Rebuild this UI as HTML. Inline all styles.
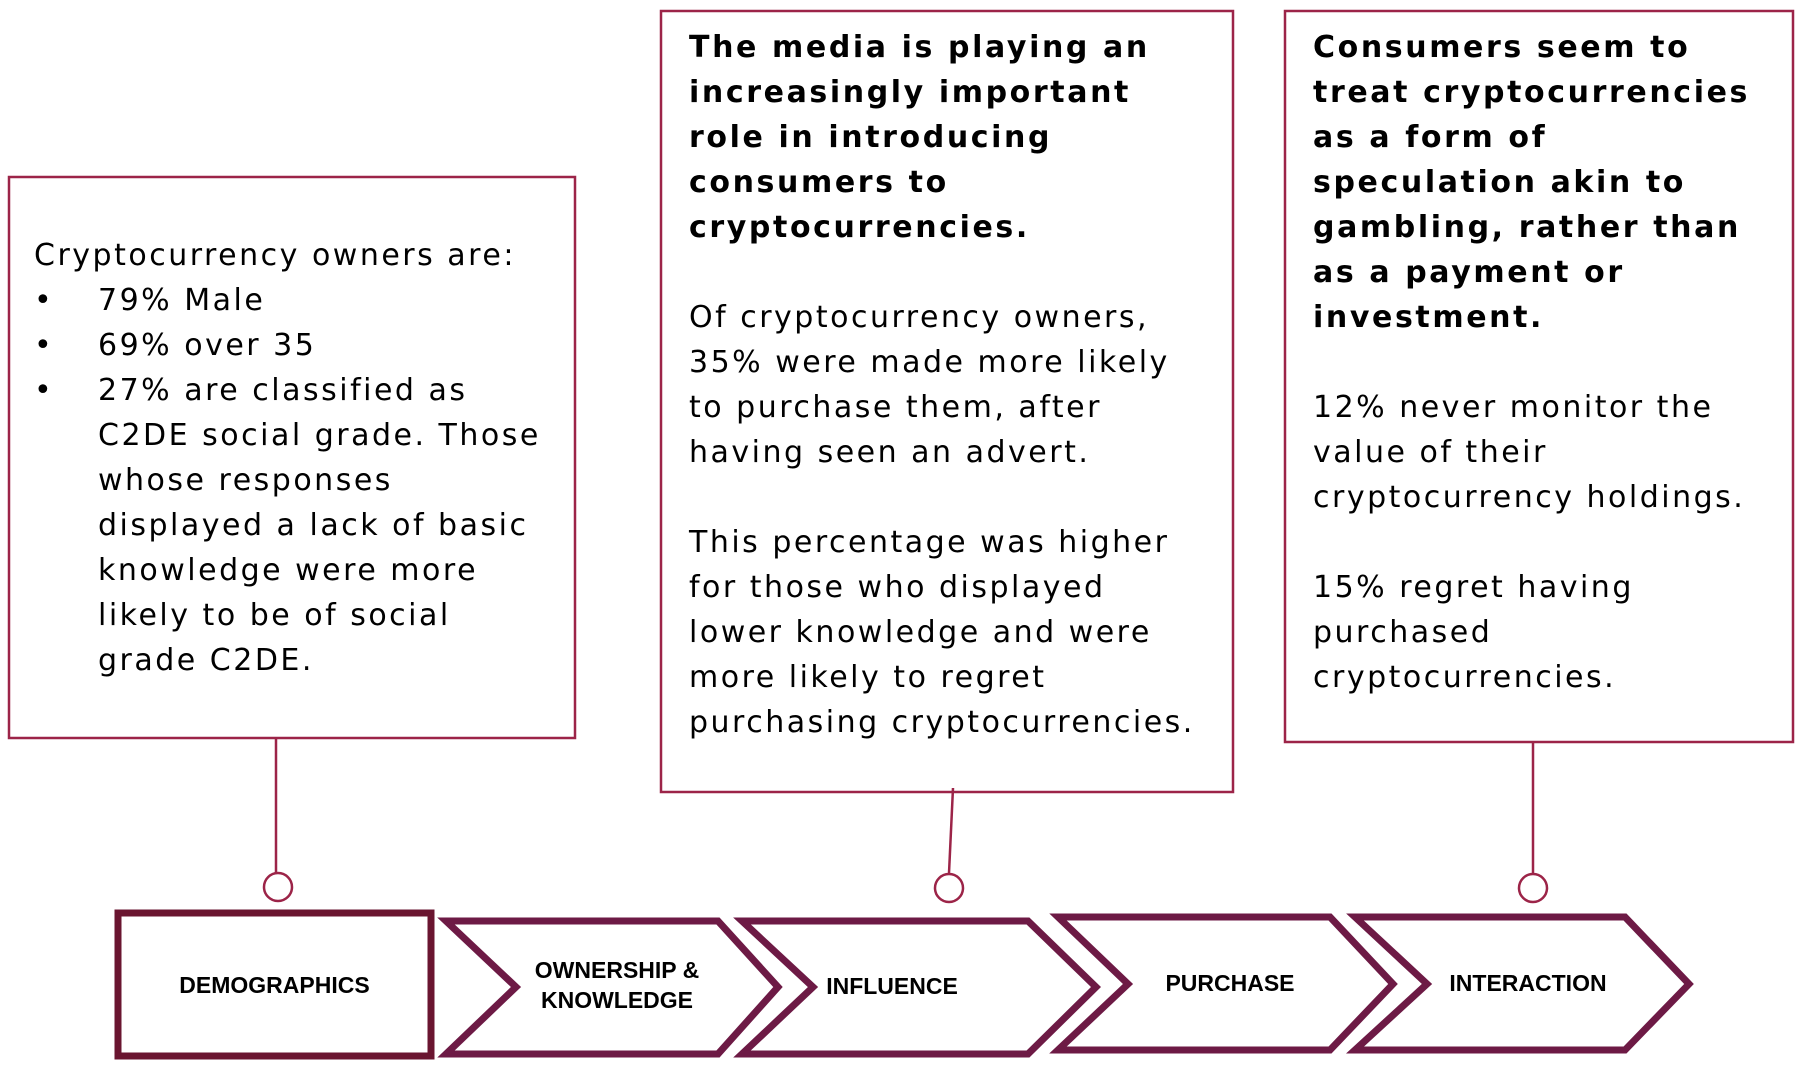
<!DOCTYPE html>
<html><head><meta charset="utf-8"><style>
body{margin:0;width:1801px;height:1067px;background:#fff;position:relative;overflow:hidden;font-family:"DejaVu Sans","Liberation Sans",sans-serif;color:#000}
.t{position:absolute;font-size:30px;line-height:45px;white-space:nowrap;letter-spacing:2.5px}
.b{font-weight:bold;letter-spacing:2.6px}
.lab{position:absolute;font-family:"Liberation Sans",sans-serif;font-weight:bold;font-size:23px;line-height:30px;text-align:center;white-space:nowrap}
</style></head><body>
<svg width="1801" height="1067" style="position:absolute;left:0;top:0">
<g fill="none" stroke="#9c2448" stroke-width="2.5">
<rect x="9" y="177" width="566" height="561"/>
<rect x="661" y="11" width="572" height="781"/>
<rect x="1285" y="11" width="508" height="731"/>
<line x1="276" y1="738" x2="276" y2="873"/>
<line x1="953" y1="788" x2="949" y2="873"/>
<line x1="1533" y1="742" x2="1533" y2="874"/>
<circle cx="278" cy="887" r="14"/>
<circle cx="949" cy="888" r="14"/>
<circle cx="1533" cy="888" r="14"/>
</g>
<rect x="118" y="913" width="313" height="143" fill="none" stroke="#6a1530" stroke-width="7"/>
<g fill="none" stroke="#6d1a45" stroke-width="7" stroke-linejoin="miter">
<polygon points="446,921 718,921 778,987 718,1054 446,1054 516,987"/>
<polygon points="742,921 1028,921 1096,987 1028,1054 742,1054 813,987"/>
<polygon points="1058,917 1330,917 1393,984 1330,1050 1058,1050 1128,984"/>
<polygon points="1355,917 1625,917 1689,984 1625,1050 1355,1050 1427,984"/>
</g>
</svg>
<div class="t" style="left:34px;top:233px">Cryptocurrency owners are:</div>
<div class="t" style="left:34px;top:278px">•</div><div class="t" style="left:98px;top:278px">79% Male</div>
<div class="t" style="left:34px;top:323px">•</div><div class="t" style="left:98px;top:323px">69% over 35</div>
<div class="t" style="left:34px;top:368px">•</div>
<div class="t" style="left:98px;top:368px">27% are classified as<br>C2DE social grade. Those<br>whose responses<br>displayed a lack of basic<br>knowledge were more<br>likely to be of social<br>grade C2DE.</div>
<div class="t" style="left:689px;top:25px"><span class="b">The media is playing an<br>increasingly important<br>role in introducing<br>consumers to<br>cryptocurrencies.</span><br><br>Of cryptocurrency owners,<br>35% were made more likely<br>to purchase them, after<br>having seen an advert.<br><br>This percentage was higher<br>for those who displayed<br>lower knowledge and were<br>more likely to regret<br>purchasing cryptocurrencies.</div>
<div class="t" style="left:1313px;top:25px"><span class="b">Consumers seem to<br>treat cryptocurrencies<br>as a form of<br>speculation akin to<br>gambling, rather than<br>as a payment or<br>investment.</span><br><br>12% never monitor the<br>value of their<br>cryptocurrency holdings.<br><br>15% regret having<br>purchased<br>cryptocurrencies.</div>
<div class="lab" style="left:118px;width:313px;top:970px">DEMOGRAPHICS</div>
<div class="lab" style="left:517px;width:200px;top:955px">OWNERSHIP &amp;<br>KNOWLEDGE</div>
<div class="lab" style="left:792px;width:200px;top:971px">INFLUENCE</div>
<div class="lab" style="left:1130px;width:200px;top:968px">PURCHASE</div>
<div class="lab" style="left:1428px;width:200px;top:968px">INTERACTION</div>
</body></html>
